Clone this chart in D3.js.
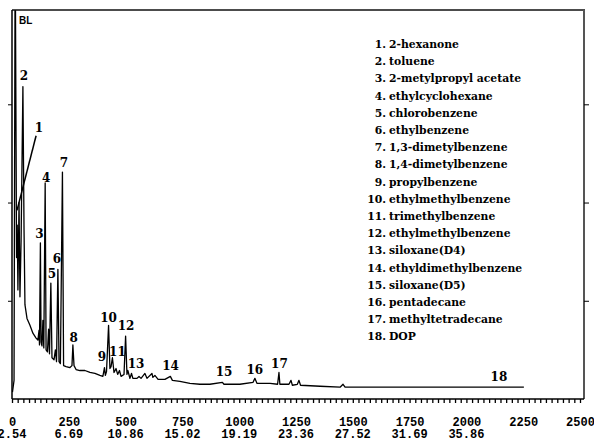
<!DOCTYPE html>
<html>
<head>
<meta charset="utf-8">
<script src="https://cdn.jsdelivr.net/npm/d3@7"></script>
<style>
  body { margin: 0; background: #fff; }
  svg { display: block; }
</style>
</head>
<body>
<div id="chart"></div>
<script>
// chromatogram trace: [scan, abundance]
const scans = [2, 9, 14, 18, 20, 23, 26, 31, 35, 40, 48, 53, 57, 66, 79, 92, 106, 114, 119, 121, 125, 128, 132, 136, 140, 146, 150, 156, 161, 165, 171, 176, 185, 191, 196, 202, 207, 213, 222, 227, 238, 255, 264, 268, 273, 282, 299, 321, 343, 365, 387, 400, 407, 411, 416, 425, 431, 436, 442, 449, 458, 465, 473, 480, 493, 500, 506, 510, 519, 526, 532, 550, 559, 568, 585, 594, 616, 620, 629, 643, 673, 697, 706, 739, 783, 827, 871, 926, 933, 1003, 1061, 1069, 1078, 1136, 1169, 1175, 1179, 1219, 1228, 1234, 1256, 1263, 1270, 1356, 1444, 1457, 1466, 1620, 1928, 2253];
const abundance = [7, 19, 470, 254, 144, 177, 111, 200, 104, 161, 318, 172, 96, 82, 75, 67, 62, 60, 70, 55, 159, 58, 54, 80, 52, 220, 50, 48, 71, 46, 118, 42, 40, 50, 38, 132, 38, 36, 231, 34, 33, 32, 34, 55, 34, 30, 29, 29, 27, 26, 24, 23, 32, 24, 28, 75, 31, 33, 42, 27, 31, 25, 29, 23, 25, 64, 25, 29, 21, 26, 21, 21, 23, 21, 26, 21, 26, 22, 24, 20, 20, 23, 19, 18, 16, 15, 15, 17, 15, 15, 17, 21, 16, 16, 15, 27, 15, 15, 19, 14, 15, 19, 14, 13, 12, 15, 12, 12, 12, 12];

// peak labels placed in data units
const peakLabels = ['BL', '1', '2', '3', '4', '5', '6', '7', '8', '9', '10', '11', '12', '13', '14', '15', '16', '17', '18'];
const labelScans = [31, 119, 53, 121, 150, 176, 198, 229, 271, 396, 425, 464, 502, 546, 698, 933, 1069, 1177, 2143];
const labelLevels = [382, 272, 325, 164, 221, 123, 138, 236, 58, 39, 78, 44, 70, 32, 30, 23, 25, 32, 18];

// leader line from label 1 to its peak
const leaderScans = [106, 22];
const leaderLevels = [268, 192];

const compounds = [
  '2-hexanone', 'toluene', '2-metylpropyl acetate', 'ethylcyclohexane',
  'chlorobenzene', 'ethylbenzene', '1,3-dimetylbenzene', '1,4-dimetylbenzene',
  'propylbenzene', 'ethylmethylbenzene', 'trimethylbenzene', 'ethylmethylbenzene',
  'siloxane(D4)', 'ethyldimethylbenzene', 'siloxane(D5)', 'pentadecane',
  'methyltetradecane', 'DOP'
];

const scanTicks = [0, 250, 500, 750, 1000, 1250, 1500, 1750, 2000, 2250, 2500];
const timeLabels = ['2.54', '6.69', '10.86', '15.02', '19.19', '23.36', '27.52', '31.69', '35.86'];

const W = 594, H = 442;
const margin = {top: 10, right: 14, bottom: 43, left: 12};

const svg = d3.select('#chart').append('svg')
    .attr('width', W)
    .attr('height', H);

const x = d3.scaleLinear()
    .domain([0, 2500])
    .range([margin.left, 580]);

const y = d3.scaleLinear()
    .domain([0, 396])
    .range([H - margin.bottom, margin.top]);

svg.append('clipPath')
    .attr('id', 'plot-clip')
  .append('rect')
    .attr('x', margin.left)
    .attr('y', margin.top)
    .attr('width', 584 - margin.left)
    .attr('height', y(0) - margin.top);

// trace
const line = d3.line()
    .x(d => x(d[0]))
    .y(d => y(d[1]));

svg.append('path')
    .datum(d3.zip(scans, abundance))
    .attr('clip-path', 'url(#plot-clip)')
    .attr('d', line)
    .attr('fill', 'none')
    .attr('stroke', '#000')
    .attr('stroke-width', 1.3)
    .attr('stroke-linejoin', 'round');

svg.append('line')
    .attr('x1', x(leaderScans[0])).attr('y1', y(leaderLevels[0]))
    .attr('x2', x(leaderScans[1])).attr('y2', y(leaderLevels[1]))
    .attr('stroke', '#000')
    .attr('stroke-width', 1.5);

// frame
svg.append('line')
    .attr('x1', margin.left).attr('x2', 585)
    .attr('y1', margin.top).attr('y2', margin.top)
    .attr('stroke', '#111').attr('stroke-width', 1.6);
svg.append('line')
    .attr('x1', 584).attr('x2', 584)
    .attr('y1', margin.top).attr('y2', y(0))
    .attr('stroke', '#555').attr('stroke-width', 2);

// axes
svg.append('g')
    .attr('transform', `translate(0,${y(0)})`)
    .call(d3.axisBottom(x)
        .tickValues(d3.range(0, 2501, 25))
        .tickSize(4)
        .tickPadding(14)
        .tickFormat(d => scanTicks.includes(d) ? d : ''))
    .call(g => g.select('.domain').attr('stroke-width', 1.5).attr('d', `M${margin.left},0H584`))
    .call(g => g.selectAll('.tick line').attr('stroke-width', 1.3))
    .call(g => g.selectAll('.tick text')
        .attr('font-family', '"Liberation Mono", monospace')
        .attr('font-weight', 'bold')
        .attr('font-size', 12)
        .attr('fill', '#000'));

svg.append('g')
    .attr('class', 'time-labels')
  .selectAll('text')
  .data(timeLabels)
  .join('text')
    .attr('x', (d, i) => x(scanTicks[i]))
    .attr('y', 438)
    .attr('text-anchor', 'middle')
    .attr('font-family', '"Liberation Mono", monospace')
    .attr('font-weight', 'bold')
    .attr('font-size', 12)
    .text(d => d);

svg.append('g')
    .attr('transform', `translate(${margin.left},0)`)
    .call(d3.axisLeft(y).tickValues([100, 200, 300]).tickSize(4).tickFormat(''))
    .call(g => g.select('.domain').attr('stroke-width', 1.5).attr('d', `M0,${margin.top}V${y(0)}`));

svg.append('g')
    .attr('transform', 'translate(584,0)')
    .call(d3.axisRight(y).tickValues([100, 200, 300]).tickSize(5).tickFormat(''))
    .call(g => g.select('.domain').remove());

// peak labels
svg.append('g')
  .selectAll('text')
  .data(peakLabels)
  .join('text')
    .attr('x', (d, i) => x(labelScans[i]))
    .attr('y', (d, i) => y(labelLevels[i]))
    .attr('text-anchor', d => d === 'BL' ? 'start' : 'middle')
    .attr('font-family', d => d === 'BL' ? '"Liberation Sans", sans-serif' : '"DejaVu Serif", serif')
    .attr('font-weight', 'bold')
    .attr('font-size', d => d === 'BL' ? 10 : 12)
    .text(d => d);

// compound legend
const legend = svg.append('g')
    .attr('font-family', '"DejaVu Serif", serif')
    .attr('font-weight', 'bold')
    .attr('font-size', 10.8);

const rows = legend.selectAll('g')
  .data(compounds)
  .join('g')
    .attr('transform', (d, i) => `translate(386,${48 + i * 17.2})`);

rows.append('text')
    .attr('text-anchor', 'end')
    .text((d, i) => `${i + 1}.`);

rows.append('text')
    .attr('x', 3)
    .text(d => d);
</script>
</body>
</html>
